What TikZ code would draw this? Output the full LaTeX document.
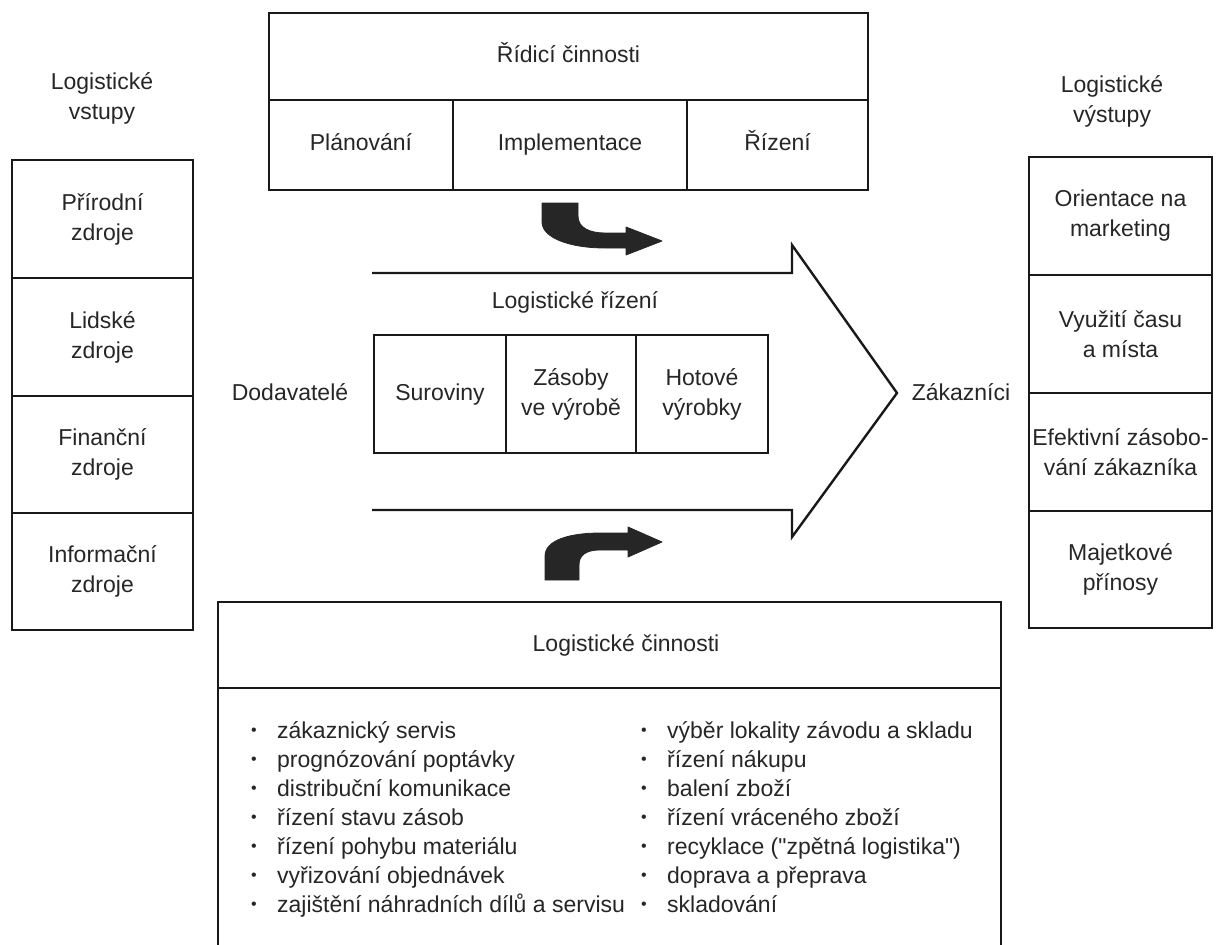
\documentclass[tikz,border=0pt]{standalone}
\usepackage{fontspec}
\setmainfont{Liberation Sans}[Ligatures=TeXOff]
\newcommand\lbul{\makebox[26pt][l]{\raisebox{3pt}{\fontsize{16}{16}\selectfont •}}}
\begin{document}
\begin{tikzpicture}[x=1pt,y=-1pt,
  every node/.style={font=\fontsize{23}{30}\selectfont, text=black!85},
  cell/.style={draw=black!90, line width=2.6pt, inner sep=0pt, align=center, rectangle},
  oneline/.style={text height=17pt, text depth=5pt},
  tag/.style={inner sep=0pt, align=center},
  item/.style={inner sep=0pt, anchor=base west},
  outline/.style={draw=black!90, line width=2.4pt, line join=miter},
  turn/.style={fill=black!85, draw=black!85, line width=0.8pt, line join=round}]
\clip (0,0) rectangle (1222,944);

% inputs column
\node[tag] (inlabel) at (102,98) {Logistické\\vstupy};
\node[cell, minimum width=181pt, minimum height=118pt] (in1) at (102.5,219) {Přírodní\\zdroje};
\node[cell, minimum width=181pt, minimum height=118pt] (in2) at (102.5,337) {Lidské\\zdroje};
\node[cell, minimum width=181pt, minimum height=117pt] (in3) at (102.5,454.5) {Finanční\\zdroje};
\node[cell, minimum width=181pt, minimum height=117pt] (in4) at (102.5,571.5) {Informační\\zdroje};

% outputs column
\node[tag] (outlabel) at (1112,101) {Logistické\\výstupy};
\node[cell, minimum width=183pt, minimum height=118pt] (out1) at (1120.5,216) {Orientace na\\marketing};
\node[cell, minimum width=183pt, minimum height=118pt] (out2) at (1120.5,334) {Využití času\\a místa};
\node[cell, minimum width=183pt, minimum height=118pt] (out3) at (1120.5,452) {Efektivní zásobo-\\vání zákazníka};
\node[cell, minimum width=183pt, minimum height=117pt] (out4) at (1120.5,569.5) {Majetkové\\přínosy};

% management activities
\node[cell, oneline, minimum width=599pt, minimum height=87pt] (ctrl) at (568.5,56.5) {Řídicí činnosti};
\node[cell, oneline, minimum width=184pt, minimum height=90pt] (plan) at (361,145) {Plánování};
\node[cell, oneline, minimum width=234pt, minimum height=90pt] (impl) at (570,145) {Implementace};
\node[cell, oneline, minimum width=181pt, minimum height=90pt] (riz) at (777.5,145) {Řízení};

% big flow arrow
\coordinate (ua) at (372,273);
\coordinate (ub) at (792,273);
\coordinate (uc) at (792,245);
\coordinate (tip) at (897,393);
\coordinate (lc) at (792,537);
\coordinate (lb) at (792,510);
\coordinate (la) at (372,510);
\draw[outline] (ua) -- (ub) -- (uc) -- (tip) -- (lc) -- (lb) -- (la);

\node[tag, oneline] (flow) at (575,302) {Logistické řízení};
\node[tag, oneline] (supp) at (290,394) {Dodavatelé};
\node[tag, oneline] (cust) at (961,394) {Zákazníci};
\node[cell, oneline, minimum width=132pt, minimum height=118pt] (raw) at (440,394) {Suroviny};
\node[cell, minimum width=130pt, minimum height=118pt] (wip) at (571,394) {Zásoby\\ve výrobě};
\node[cell, minimum width=132pt, minimum height=118pt] (fin) at (702,394) {Hotové\\výrobky};

% bent arrows
\fill[turn] (542,203) -- (578,203) -- (578,216)
  .. controls (578,228) and (590,233) .. (605,233) -- (626,233) -- (626,227)
  -- (662,241) -- (626,255) -- (626,248) -- (605,248)
  .. controls (570,248) and (542,238) .. (542,222) -- cycle;
\fill[turn] (545,580) -- (545,556)
  .. controls (545,540) and (570,533) .. (600,533) -- (628,533) -- (628,527)
  -- (662,542) -- (628,557) -- (628,550) -- (600,550)
  .. controls (585,550) and (579,556) .. (579,565) -- (579,580) -- cycle;

% logistics activities
\node[cell, minimum width=783pt, minimum height=86pt] (acthead) at (609.5,645) {};
\node[tag, oneline] (acttitle) at (626,645) {Logistické činnosti};
\node[cell, minimum width=783pt, minimum height=292pt] (actbody) at (609.5,834) {};

\foreach \t [count=\i] in {zákaznický servis, prognózování poptávky, distribuční komunikace,
  řízení stavu zásob, řízení pohybu materiálu, vyřizování objednávek,
  zajištění náhradních dílů a servisu}
  \node[item] (a\i) at (251,{738+29*(\i-1)}) {\lbul\t};
\foreach \t [count=\i] in {výběr lokality závodu a skladu, řízení nákupu, balení zboží,
  řízení vráceného zboží, {recyklace ("zpětná logistika")}, doprava a přeprava, skladování}
  \node[item] (b\i) at (641,{738+29*(\i-1)}) {\lbul\t};
\end{tikzpicture}
\end{document}
